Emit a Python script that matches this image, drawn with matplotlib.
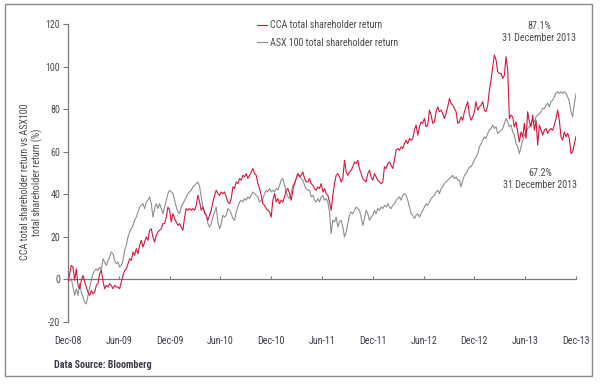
import numpy as np
import matplotlib
matplotlib.use("Agg")
import matplotlib.pyplot as plt
import matplotlib.font_manager as fm
from matplotlib.patches import Rectangle

# ---- pick a narrow / condensed sans-serif if one is installed ----
def pick_condensed():
    fonts = fm.fontManager.ttflist
    for want in ['Liberation Sans Narrow', 'Roboto Condensed', 'Open Sans Condensed']:
        if any(f.name == want for f in fonts):
            return want, 'normal'
    for fam in ['Noto Sans', 'DejaVu Sans', 'Open Sans', 'Roboto']:
        for f in fonts:
            if f.name == fam and str(f.stretch) in ('condensed', 'semi-condensed', '75', '87'):
                return fam, f.stretch
    for f in fonts:
        if 'Narrow' in f.name or 'Condensed' in f.name:
            return f.name, 'normal'
    return 'DejaVu Sans', 'normal'

FAMILY, STRETCH = pick_condensed()
plt.rcParams['font.family'] = [FAMILY, 'DejaVu Sans']
plt.rcParams['font.stretch'] = STRETCH

# ---- data (% total shareholder return) ----
cca_return = [
    -1.2, 2.7, 6.6, 5.8, -0.5, 5.0, -2.8, -4.4, -0.5, 1.9, -1.2, -3.6, -6.0, -7.5, -5.2, -6.8,
    -6.0, -2.8, -2.0, 2.7, 4.2, -0.5, -4.4, -2.8, -3.6, -2.0, -2.8, -4.4, -2.8, -3.6, -3.6, -4.4,
    -1.2, 1.9, 4.2, 5.0, 7.4, 9.7, 8.9, 12.9, 11.3, 14.4, 12.1, 16.0, 18.4, 15.2, 17.6, 19.9,
    18.4, 23.1, 23.8, 19.9, 17.6, 20.7, 22.3, 23.1, 23.8, 26.2,
    26.2, 29.3, 34.0, 32.5, 27.0, 30.9, 28.6, 27.0, 25.4, 26.2, 24.6, 23.1, 29.3, 33.3, 32.5, 33.3,
    32.5, 33.3, 32.5, 34.8, 39.5, 36.4, 32.5, 34.0, 31.7, 30.1, 27.8, 30.1, 32.5, 36.4, 39.5, 41.9,
    40.3, 39.5, 41.1, 40.3, 41.1, 38.8, 36.4, 35.6, 38.0, 43.5, 42.7, 45.8, 45.0, 47.4, 46.6, 48.9,
    48.2, 49.7, 47.4, 48.9, 50.5, 52.1, 49.7, 48.9, 45.0, 42.7, 39.5, 35.6,
    34.8, 33.3, 32.5, 31.7, 29.3, 37.2, 40.3, 36.4, 38.0, 35.6, 37.2, 36.4, 38.8, 41.9, 42.7, 40.3,
    37.2, 41.9, 45.0, 47.4, 49.7, 48.2, 48.9, 50.5, 47.4, 45.8, 45.8, 47.4, 45.0, 44.2, 42.7, 41.9,
    43.5, 42.7, 45.0, 41.1, 42.7, 40.3, 39.5, 36.4, 32.5, 39.5, 45.0, 48.9, 49.7, 48.2, 45.8, 47.4,
    56.0, 50.5, 48.9, 50.5, 51.3, 52.9, 55.2, 54.4, 56.0, 52.1, 49.7, 47.4, 46.6, 45.8,
    49.7, 51.3, 48.2, 46.6, 49.7, 48.2, 46.6, 45.8, 45.0, 45.8, 52.9, 52.1, 54.4, 55.2, 53.7, 52.1,
    56.0, 60.7, 61.5, 60.7, 62.3, 61.5, 63.8, 65.4, 63.8, 66.2, 65.4, 66.2, 70.1, 72.5, 67.8, 71.7,
    74.0, 73.3, 75.6, 71.7, 72.5, 79.5, 77.2, 73.3, 74.0, 78.8, 81.1, 78.8, 79.5, 78.0, 75.6, 78.0,
    81.1, 85.0, 82.7, 81.9, 80.3, 78.8, 73.3, 74.0, 76.4, 74.8, 78.8, 81.1, 83.5, 77.2,
    74.8, 76.4, 78.8, 83.5, 79.5, 81.1, 81.9, 83.5, 79.5, 78.8, 81.9, 88.9, 93.7, 99.9, 105.4, 103.1,
    97.6, 96.8, 96.8, 94.4, 96.0, 104.6, 98.4, 75.6, 77.2, 76.4, 71.7, 74.0, 69.3, 64.6, 69.3, 67.0,
    73.3, 66.2, 78.8, 74.0, 71.7, 77.2, 70.1, 74.8, 63.1, 72.5, 70.1, 67.8, 70.1, 70.9, 68.6, 70.1,
    70.9, 70.1, 72.5, 75.6, 79.5, 74.8, 67.0, 65.4, 69.3, 67.0, 68.6, 66.2, 59.1, 59.9, 63.8, 67.2,
]

asx100_return = [
    1.1, -0.5, 0.3, -3.6, -7.5, -4.4, -7.5, -2.0, -6.0, -8.3, -10.7, -11.5, -7.5, -3.6, -0.5, 2.7,
    4.2, 5.0, 4.2, 5.8, 4.2, 9.7, 8.2, 6.6, 8.9, 10.5, 12.9, 12.1, 8.9, 7.4, 8.2, 5.8,
    6.6, 8.9, 13.7, 16.0, 19.9, 22.3, 23.8, 25.4, 27.8, 29.3, 31.7, 34.0, 34.8, 35.6, 33.3, 36.4,
    37.2, 38.8, 35.6, 29.3, 33.3, 35.6, 33.3, 35.6, 33.3, 30.9,
    34.0, 37.2, 40.3, 41.9, 41.1, 40.3, 37.2, 34.0, 31.7, 30.9, 34.0, 35.6, 37.2, 38.8, 40.3, 41.1,
    41.9, 43.5, 44.2, 45.0, 45.8, 43.5, 38.8, 34.0, 30.9, 30.1, 26.2, 24.6, 26.2, 29.3, 31.7, 34.0,
    27.0, 23.8, 26.2, 30.1, 29.3, 30.1, 33.3, 32.5, 30.9, 28.6, 27.8, 31.7, 34.0, 36.4, 37.2, 36.4,
    38.0, 37.2, 38.8, 38.0, 39.5, 41.1, 40.3, 39.5, 38.8, 36.4, 37.2, 38.0,
    40.3, 41.9, 41.1, 42.7, 41.1, 41.9, 41.1, 42.7, 41.9, 44.2, 46.6, 47.4, 44.2, 41.1, 38.8, 38.0,
    40.3, 44.2, 45.0, 47.4, 49.7, 48.9, 47.4, 46.6, 44.2, 42.7, 41.9, 41.9, 38.8, 39.5, 37.2, 36.4,
    38.0, 36.4, 38.8, 39.5, 37.2, 38.0, 36.4, 31.7, 21.5, 27.8, 27.0, 29.3, 24.6, 27.0, 27.8, 24.6,
    19.9, 22.3, 26.2, 30.1, 31.7, 30.9, 32.5, 34.0, 33.3, 32.5, 29.3, 25.4, 28.6, 32.5,
    30.9, 27.8, 29.3, 30.1, 32.5, 30.9, 33.3, 32.5, 34.0, 33.3, 34.8, 34.0, 35.6, 34.0, 33.3, 34.8,
    35.6, 37.2, 38.0, 38.8, 37.2, 39.5, 40.3, 39.5, 37.2, 34.0, 30.9, 30.1, 28.6, 30.1, 30.9, 29.3,
    30.9, 32.5, 34.0, 35.6, 34.8, 36.4, 38.0, 38.8, 39.5, 41.1, 41.9, 40.3, 42.7, 43.5, 45.0, 45.8,
    46.6, 47.4, 48.2, 48.9, 47.4, 48.2, 46.6, 46.6, 43.5, 46.6, 48.9, 49.7, 51.3, 52.9,
    52.9, 54.4, 56.0, 57.6, 59.1, 62.3, 63.8, 65.4, 67.0, 66.2, 68.6, 70.1, 70.9, 72.5, 70.9, 71.7,
    68.6, 69.3, 70.1, 70.9, 73.3, 75.6, 74.0, 71.7, 72.5, 69.3, 67.8, 63.8, 62.3, 59.1, 62.3, 65.4,
    67.8, 69.3, 70.9, 71.7, 73.3, 74.8, 74.0, 76.4, 77.2, 78.0, 78.8, 80.3, 80.3, 81.9, 82.7, 81.1,
    83.5, 84.2, 85.8, 87.4, 88.2, 87.4, 88.2, 87.4, 88.2, 87.4, 85.8, 83.5, 78.8, 76.4, 82.7, 87.1,
]

# observation times as fractional years, evenly spaced Dec-2008 .. Dec-2013
period_start, period_end = 2009.0, 2014.0
years = np.linspace(period_start, period_end, len(cca_return))

tick_positions = [2009.0, 2009.5, 2010.0, 2010.5, 2011.0, 2011.5, 2012.0, 2012.5, 2013.0, 2013.5, 2014.0]
tick_labels = ['Dec-08', 'Jun-09', 'Dec-09', 'Jun-10', 'Dec-10', 'Jun-11',
               'Dec-11', 'Jun-12', 'Dec-12', 'Jun-13', 'Dec-13']
y_ticks = [-20, 0, 20, 40, 60, 80, 100, 120]

series_labels = ['CCA total shareholder return', 'ASX 100 total shareholder return']
end_label_cca = '67.2%\n31 December 2013'
end_label_asx = '87.1%\n31 December 2013'

RED = '#d6163c'
GREY = '#8e8e8e'
AXIS = '#7a7a7a'
TEXT = '#4a4a4a'
FS = 7.2

fig = plt.figure(figsize=(6, 3.84), dpi=100)
ax = fig.add_axes([68 / 600, 1 - 322 / 384, (576 - 68) / 600, (322 - 24) / 384])

l1, = ax.plot(years, cca_return, color=RED, lw=0.8, zorder=3)
l2, = ax.plot(years, asx100_return, color=GREY, lw=0.8, zorder=2)

ax.set_xlim(period_start, period_end)
ax.set_ylim(-20, 120)
ax.set_yticks(y_ticks)
ax.set_yticklabels([str(v) for v in y_ticks])
ax.set_xticks(tick_positions)
ax.set_xticklabels(tick_labels)

for s in ['top', 'right']:
    ax.spines[s].set_visible(False)
ax.spines['bottom'].set_position(('data', 0))
ax.spines['bottom'].set_color(AXIS)
ax.spines['left'].set_color(AXIS)
ax.spines['bottom'].set_linewidth(0.9)
ax.spines['left'].set_linewidth(0.9)

ax.tick_params(axis='y', direction='out', length=3.5, width=0.8, color=AXIS,
               labelsize=FS, labelcolor=TEXT, pad=2)
ax.tick_params(axis='x', direction='in', length=2.5, width=0.8, color=AXIS,
               labelsize=FS, labelcolor='#3d3d4a', pad=41)

leg = fig.legend([l1, l2], series_labels, loc='upper left',
                 bbox_to_anchor=(257 / 600, 1 - 20 / 384), bbox_transform=fig.transFigure,
                 frameon=False, fontsize=FS, handlelength=1.0, handletextpad=0.3,
                 labelspacing=0.75, borderpad=0, borderaxespad=0)
for t in leg.get_texts():
    t.set_color(TEXT)

ax.annotate(end_label_asx, xy=(years[-1], asx100_return[-1]), xytext=(-26.5, 44.5),
            textcoords='offset points', ha='center', va='center', fontsize=FS,
            color=TEXT, linespacing=1.25)
ax.annotate(end_label_cca, xy=(years[-1], cca_return[-1]), xytext=(-26, -30.5),
            textcoords='offset points', ha='center', va='center', fontsize=FS,
            color=TEXT, linespacing=1.25)

fig.text(31.5 / 600, 1 - 182 / 384,
         'CCA total shareholder return vs ASX100\ntotal shareholder return (%)',
         rotation=90, ha='center', va='center', multialignment='center',
         fontsize=FS, color=TEXT, linespacing=1.2)

fig.text(54 / 600, 1 - 365 / 384, 'Data Source: Bloomberg', ha='left', va='center',
         fontsize=FS, fontweight='bold', color='#3d3d4a')

fig.patches.append(Rectangle((5 / 600, 1 - 376 / 384), 587 / 600, 372 / 384,
                             transform=fig.transFigure, fill=False,
                             edgecolor='#8a8a8a', lw=1.0))

fig.savefig('out.png', dpi=100)
